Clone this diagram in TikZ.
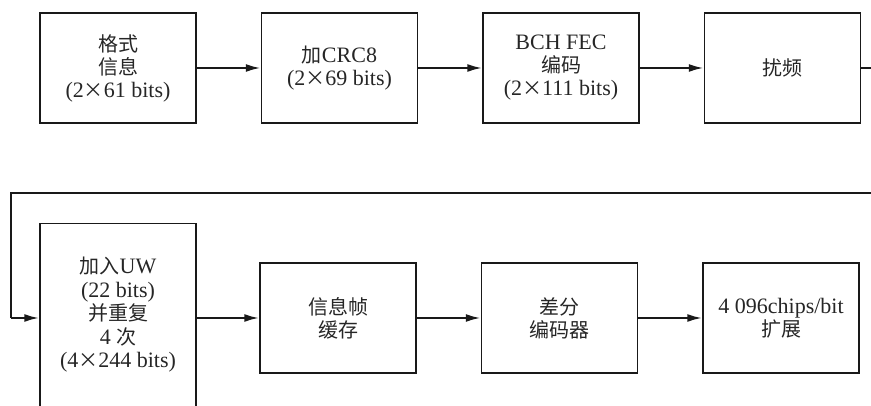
\documentclass[tikz,border=0pt]{standalone}
\usepackage{fontspec}
\setmainfont{Liberation Serif}[Scale=1.1]
\newfontfamily\cjk{Noto Sans CJK SC}
\usetikzlibrary{arrows.meta,positioning}
\newcommand{\zh}[1]{{\cjk #1}}

\begin{document}
\begin{tikzpicture}[x=1pt,y=1pt,
  blk/.style={draw=black!90,line width=1.5pt,minimum width=156pt,minimum height=110pt,
    align=center,inner sep=0pt,font=\fontsize{20}{23}\selectfont,text=black!85},
  flow/.style={draw=black!90,line width=2.2pt,-{Latex[length=15pt,width=8pt]}},
  feed/.style={draw=black!90,line width=1.4pt},
  node distance=64pt]
  \useasboundingbox (0,0) rectangle (871,406);
  \clip (0,0) rectangle (871,406);

  % upper row
  \node[blk] (fmt) at (118,338) {\zh{格式}\\\zh{信息}\\(2\zh{×}61 bits)};
  \node[blk,right=of fmt] (crc) {\zh{加}CRC8\\(2\zh{×}69 bits)};
  \node[blk,right=of crc] (fec) {BCH FEC\\\zh{编码}\\(2\zh{×}111 bits)};
  \node[blk,right=of fec] (scr) {\zh{扰频}};

  % lower row
  \node[blk,minimum height=240pt,anchor=north] (uw) at (118,183) {};
  \node[align=center,inner sep=0pt,font=\fontsize{20}{23.5}\selectfont,text=black!85] (uwtext) at (118,91)
    {\zh{加入}UW\\(22 bits)\\\zh{并重复}\\4 \zh{次}\\(4\zh{×}244 bits)};
  \node[blk] (buf) at (338,88) {\zh{信息帧}\\\zh{缓存}};
  \node[blk,right=of buf] (dif) {\zh{差分}\\\zh{编码器}};
  \node[blk,right=of dif] (spr) {4 096chips/bit\\\zh{扩展}};

  \draw[flow] (fmt) -- (crc);
  \draw[flow] (crc) -- (fec);
  \draw[flow] (fec) -- (scr);

  % wrap-around from the upper row
  \coordinate (turnR) at (890,213);
  \coordinate (turnL) at (11,213);
  \draw[feed] (scr.east) -| (turnR) -- (turnL) -- (turnL |- buf.west);
  \draw[flow] (turnL |- buf.west) -- (uw.west |- buf.west);

  \draw[flow] (uw.east |- buf.west) -- (buf);
  \draw[flow] (buf) -- (dif);
  \draw[flow] (dif) -- (spr);
\end{tikzpicture}
\end{document}
